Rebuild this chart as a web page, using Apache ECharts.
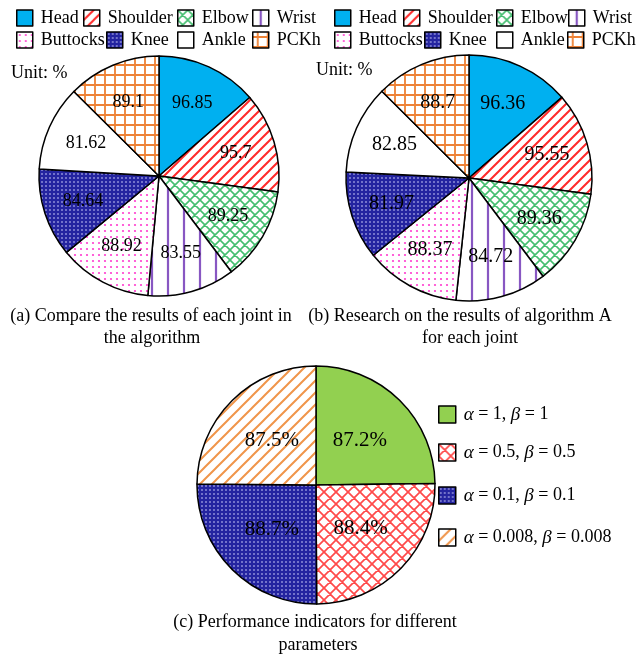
<!DOCTYPE html>
<html>
<head>
<meta charset="utf-8">
<script src="https://cdn.jsdelivr.net/npm/echarts@6/dist/echarts.min.js"></script>
<style>
  html, body { margin: 0; padding: 0; background: #fff; }
  #main { width: 636px; height: 658px; }
</style>
</head>
<body>
<div id="main"></div>
<script>
// joints and values
var joints = ['Head', 'Shoulder', 'Elbow', 'Wrist', 'Buttocks', 'Knee', 'Ankle', 'PCKh'];
var valuesA = [96.85, 95.7, 89.25, 83.55, 88.92, 84.64, 81.62, 89.1];
var valuesB = [96.36, 95.55, 89.36, 84.72, 88.37, 81.97, 82.85, 88.7];
var params = ['α = 1, β = 1', 'α = 0.5, β = 0.5', 'α = 0.1, β = 0.1', 'α = 0.008, β = 0.008'];
var valuesC = [87.2, 88.4, 88.7, 87.5];

var FONT = '"Liberation Serif", "Times New Roman", serif';

// small canvas tiles used as hatch fills
function makePattern(kind, fg, bg, step, lw) {
    var c = document.createElement('canvas');
    c.width = step;
    c.height = step;
    var g = c.getContext('2d');
    g.fillStyle = bg;
    g.fillRect(0, 0, step, step);
    g.strokeStyle = fg;
    g.fillStyle = fg;
    g.lineWidth = lw;
    g.beginPath();
    if (kind === 'diag' || kind === 'cross') {
        g.moveTo(-2, step + 2); g.lineTo(step + 2, -2);
        g.moveTo(-2, 2); g.lineTo(2, -2);
        g.moveTo(step - 2, step + 2); g.lineTo(step + 2, step - 2);
    }
    if (kind === 'cross') {
        g.moveTo(-2, -2); g.lineTo(step + 2, step + 2);
        g.moveTo(step - 2, -2); g.lineTo(step + 2, 2);
        g.moveTo(-2, step - 2); g.lineTo(2, step + 2);
    }
    if (kind === 'vert' || kind === 'grid') {
        g.moveTo(step / 2, 0); g.lineTo(step / 2, step);
    }
    if (kind === 'grid') {
        g.moveTo(0, step / 2); g.lineTo(step, step / 2);
    }
    g.stroke();
    if (kind === 'dots') {
        g.beginPath();
        g.arc(step / 2, step / 2, lw, 0, Math.PI * 2);
        g.fill();
    }
    return { image: c, repeat: 'repeat' };
}

var fillsAB = [
    '#00B0F0',
    makePattern('diag', '#FF2A2A', '#fff', 10, 2),
    makePattern('cross', '#45BE70', '#fff', 10, 1.6),
    makePattern('vert', '#8857C2', '#fff', 16, 2.2),
    makePattern('dots', '#FF3CCF', '#fff', 6, 1.1),
    makePattern('dots', '#D8D8FF', '#2424A0', 4, 0.8),
    '#ffffff',
    makePattern('grid', '#EE8236', '#fff', 10, 1.8)
];
var fillsC = [
    '#92D050',
    makePattern('cross', '#FF4A4A', '#fff', 12, 1.7),
    makePattern('dots', '#D8D8FF', '#2424A0', 4, 0.8),
    makePattern('diag', '#F0954A', '#fff', 12, 2)
];

function pieData(names, values, fills) {
    return names.map(function (n, i) {
        return { name: n, value: values[i], itemStyle: { color: fills[i] } };
    });
}

function piePair(center, r, names, values, fills, fontSize, fmt, labelRatio) {
    var main = {
        type: 'pie',
        center: center,
        radius: r,
        startAngle: 90,
        silent: true,
        itemStyle: { borderColor: '#000', borderWidth: 1.5 },
        label: { show: false },
        labelLine: { show: false },
        emphasis: { disabled: true },
        data: pieData(names, values, fills)
    };
    // transparent ring only used to push labels out to the right radius
    var labels = {
        type: 'pie',
        center: center,
        radius: [Math.round(r * (2 * labelRatio - 1)), r],
        startAngle: 90,
        silent: true,
        itemStyle: { color: 'rgba(0,0,0,0)', borderWidth: 0 },
        label: {
            show: true,
            position: 'inside',
            formatter: fmt,
            color: '#000',
            fontFamily: FONT,
            fontSize: fontSize
        },
        labelLine: { show: false },
        emphasis: { disabled: true },
        data: values.map(function (v, i) { return { name: names[i] + ' ', value: v }; })
    };
    return [main, labels];
}

var legends = [];
function addLegend(name, x, y, size, fontSize, rich) {
    var lg = {
        data: [name],
        left: x,
        top: y,
        padding: 0,
        icon: 'rect',
        itemWidth: size,
        itemHeight: size,
        itemGap: 0,
        selectedMode: false,
        itemStyle: { borderColor: '#000', borderWidth: 1.5 },
        textStyle: {
            fontFamily: FONT,
            fontSize: fontSize,
            color: '#000',
            padding: [0, 0, 0, 3]
        }
    };
    if (rich) {
        lg.formatter = function (n) {
            return n.replace(/α/g, '{g|α}').replace(/β/g, '{g|β}');
        };
        lg.textStyle.rich = {
            g: { fontFamily: FONT, fontStyle: 'italic', fontSize: fontSize + 1, color: '#000' }
        };
    }
    legends.push(lg);
}

var posA = [[16, 9], [83, 9], [177, 9], [252, 9], [16, 31], [106, 31], [177, 31], [252, 31]];
var posB = [[334, 9], [403, 9], [496, 9], [568, 9], [334, 31], [424, 31], [496, 31], [567, 31]];
joints.forEach(function (n, i) {
    addLegend(n, posA[i][0], posA[i][1], 16, 18);
});
// second copy of the joint legend; names resolve to the first pie, same look
joints.forEach(function (n, i) {
    addLegend(n, posB[i][0], posB[i][1], 16, 18);
});
var posC = [[438, 405], [438, 443], [438, 486], [438, 528]];
params.forEach(function (n, i) {
    addLegend(n, posC[i][0], posC[i][1], 17, 18, true);
});

var series = []
    .concat(piePair([159, 176], 120, joints, valuesA, fillsAB, 18, '{c}', 0.64))
    .concat(piePair([469, 178], 123, joints, valuesB, fillsAB, 20, '{c}', 0.64))
    .concat(piePair([316, 485], 119, params, valuesC, fillsC, 21, '{c}%', 0.5));

function caption(text, x, y) {
    return {
        type: 'text',
        x: x,
        y: y,
        style: {
            text: text,
            fill: '#000',
            font: '18px ' + FONT,
            align: 'center',
            verticalAlign: 'middle'
        }
    };
}

var myChart = echarts.init(document.getElementById('main'));
var option = {
    backgroundColor: '#fff',
    animation: false,
    legend: legends,
    series: series,
    graphic: [
        { type: 'text', x: 11, y: 73, style: { text: 'Unit: %', fill: '#000', font: '18px ' + FONT, verticalAlign: 'middle' } },
        { type: 'text', x: 316, y: 70, style: { text: 'Unit: %', fill: '#000', font: '18px ' + FONT, verticalAlign: 'middle' } },
        caption('(a) Compare the results of each joint in', 151, 316),
        caption('the algorithm', 152, 338),
        caption('(b) Research on the results of algorithm A', 460, 316),
        caption('for each joint', 470, 338),
        caption('(c) Performance indicators for different', 315, 622),
        caption('parameters', 318, 645)
    ]
};
myChart.setOption(option);
</script>
</body>
</html>
